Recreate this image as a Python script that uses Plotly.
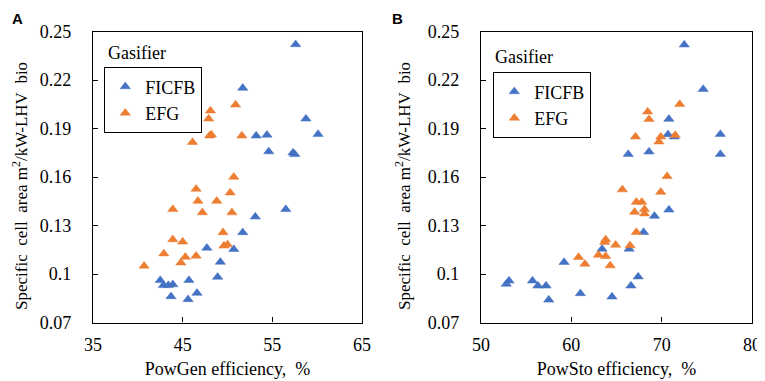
import plotly.graph_objects as go

# ---------------- data ----------------
# Panel A: PowGen efficiency (%) vs specific cell area
a_ficfb_x = [57.6, 51.7, 58.75, 53.2, 54.4, 60.1, 54.6, 57.3, 57.5, 56.5, 53.1, 51.7,
             47.7, 50.7, 49.2, 48.9, 45.7, 42.5, 42.85, 43.4, 43.9, 43.7, 46.6, 45.6]
a_ficfb_y = [0.242, 0.215, 0.196, 0.1855, 0.186, 0.1865, 0.1757, 0.175, 0.174, 0.140, 0.1354, 0.1257,
             0.1161, 0.1153, 0.1074, 0.0981, 0.0961, 0.0961, 0.093, 0.093, 0.0935, 0.0861, 0.0882, 0.0843]
a_efg_x = [50.9, 48.1, 47.9, 48.0, 48.2, 51.6, 46.1, 50.7, 46.5, 50.3, 46.7, 48.8, 43.9,
           47.2, 50.5, 49.5, 43.9, 45.0, 49.6, 50.0, 42.9, 45.3, 46.5, 44.8, 40.7]
a_efg_y = [0.2047, 0.201, 0.196, 0.1855, 0.1862, 0.1855, 0.1815, 0.160, 0.1526, 0.1503, 0.1451, 0.1451, 0.140,
           0.138, 0.138, 0.1257, 0.1213, 0.1199, 0.1174, 0.1182, 0.1126, 0.1105, 0.1112, 0.107, 0.105]

# Panel B: PowSto efficiency (%) vs specific cell area
b_ficfb_x = [72.5, 74.6, 70.8, 70.7, 71.4, 76.5, 66.3, 68.6, 76.5, 70.8, 69.2, 68.0, 66.4,
             63.4, 59.2, 67.4, 66.6, 53.1, 55.7, 52.8, 56.3, 57.2, 57.5, 61.0, 64.5]
b_ficfb_y = [0.2418, 0.2143, 0.1958, 0.1863, 0.1849, 0.1865, 0.1741, 0.1756, 0.1741, 0.1397, 0.1358, 0.1259, 0.1155,
             0.1155, 0.1073, 0.0983, 0.0927, 0.0958, 0.0958, 0.0938, 0.0927, 0.0927, 0.084, 0.088, 0.0859]
b_efg_x = [72.0, 68.45, 68.6, 67.1, 69.9, 69.7, 71.5, 70.6, 65.65, 69.9, 67.2, 67.8, 68.1,
           67.0, 68.1, 67.2, 63.8, 63.7, 64.9, 66.5, 63.0, 63.8, 60.8, 61.5, 64.3]
b_efg_y = [0.205, 0.2004, 0.1957, 0.1849, 0.1849, 0.1818, 0.1859, 0.1604, 0.1522, 0.1507, 0.1445, 0.1445, 0.140,
           0.1383, 0.1373, 0.1259, 0.1213, 0.1197, 0.118, 0.1176, 0.1118, 0.111, 0.1104, 0.1062, 0.1052]

series_names = ["FICFB", "EFG"]
legend_title = "Gasifier"
y_tickvals = [0.07, 0.10, 0.13, 0.16, 0.19, 0.22, 0.25]
y_ticktext = ["0.07", "0.1", "0.13", "0.16", "0.19", "0.22", "0.25"]
a_xticks = [35, 45, 55, 65]
b_xticks = [50, 60, 70, 80]
a_xtitle = "PowGen efficiency,\u00a0 %"
b_xtitle = "PowSto efficiency,\u00a0 %"
y_title = "Specific\u00a0 cell\u00a0 area m<sup>2</sup>/kW-LHV\u00a0 bio"
panel_labels = ["A", "B"]

# ---------------- styling ----------------
OFF = 8                      # page body margin in the browser
W, H = 765 - OFF, 381 - OFF  # figure size that fits the visible window
BLUE = "#4472C4"
ORANGE = "#ED7D31"
SERIF = "Liberation Serif"
FS = 18

def px(x):
    """page pixel x -> paper fraction"""
    return (x - OFF) / W

def py(y):
    """page pixel y -> paper fraction"""
    return 1 - (y - OFF) / H

fig = go.Figure()

def add(xs, ys, name, color, xa, ya, leg):
    fig.add_trace(go.Scatter(
        x=xs, y=ys, mode="markers", name=name,
        marker=dict(symbol="triangle-up", size=9, color=color,
                    line=dict(width=0.5, color=color)),
        xaxis=xa, yaxis=ya, legend=leg,
    ))

add(a_ficfb_x, a_ficfb_y, series_names[0], BLUE, "x", "y", "legend")
add(a_efg_x, a_efg_y, series_names[1], ORANGE, "x", "y", "legend")
add(b_ficfb_x, b_ficfb_y, series_names[0], BLUE, "x2", "y2", "legend2")
add(b_efg_x, b_efg_y, series_names[1], ORANGE, "x2", "y2", "legend2")

ydom = [py(322.5), py(31.5)]
axis_common = dict(showline=True, linecolor="black", linewidth=1.3, mirror=True,
                   ticks="inside", ticklen=5, tickwidth=1.3, tickcolor="black",
                   showgrid=False, zeroline=False, automargin=False,
                   tickfont=dict(family=SERIF, size=FS, color="black"))
title_font = dict(family=SERIF, size=FS, color="black")

fig.update_layout(
    width=W, height=H,
    margin=dict(l=0, r=0, t=0, b=0, pad=0, autoexpand=False),
    paper_bgcolor="white", plot_bgcolor="white",
    showlegend=True,
    font=dict(family=SERIF, size=FS, color="black"),
    xaxis=dict(domain=[px(93), px(362)], range=[35, 65], tickvals=a_xticks,
               anchor="y", ticklabelstandoff=6,
               title=dict(text=a_xtitle, font=title_font, standoff=8),
               **axis_common),
    yaxis=dict(domain=ydom, range=[0.07, 0.25], tickvals=y_tickvals, ticktext=y_ticktext,
               anchor="x", ticklabelstandoff=17, **axis_common),
    xaxis2=dict(domain=[px(481), px(752)], range=[50, 80], tickvals=b_xticks,
                anchor="y2", ticklabelstandoff=6,
                title=dict(text=b_xtitle, font=title_font, standoff=8),
                **axis_common),
    yaxis2=dict(domain=ydom, range=[0.07, 0.25], tickvals=y_tickvals, ticktext=y_ticktext,
                anchor="x2", ticklabelstandoff=17, **axis_common),
    legend=dict(x=px(104), y=py(67), xanchor="left", yanchor="top",
                bordercolor="black", borderwidth=1.3, bgcolor="white",
                font=dict(family=SERIF, size=FS, color="black"),
                itemwidth=30, tracegroupgap=0),
    legend2=dict(x=px(493), y=py(72), xanchor="left", yanchor="top",
                 bordercolor="black", borderwidth=1.3, bgcolor="white",
                 font=dict(family=SERIF, size=FS, color="black"),
                 itemwidth=30, tracegroupgap=0),
)

annotations = [
    dict(text=legend_title, x=px(106), y=py(53), xanchor="left", yanchor="middle"),
    dict(text=legend_title, x=px(493), y=py(57), xanchor="left", yanchor="middle"),
]
for a in annotations:
    a.update(xref="paper", yref="paper", showarrow=False,
             font=dict(family=SERIF, size=FS, color="black"))
    fig.add_annotation(**a)

for xpos in (20, 403):
    fig.add_annotation(text=y_title, x=px(xpos), y=py(186), xref="paper", yref="paper",
                       textangle=-90, showarrow=False, xanchor="center", yanchor="middle",
                       font=dict(family=SERIF, size=17, color="black"))

for lab, xpos in zip(panel_labels, (10, 390)):
    fig.add_annotation(text="<b>%s</b>" % lab, x=px(xpos), y=1, xref="paper", yref="paper",
                       showarrow=False, xanchor="left", yanchor="top",
                       font=dict(family="Liberation Sans", size=15, color="black"))

fig.write_html("out.html")
